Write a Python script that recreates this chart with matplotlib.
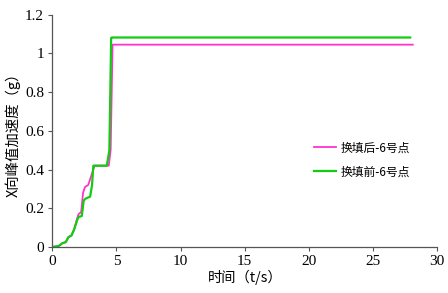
import matplotlib
matplotlib.use('Agg')
import matplotlib.pyplot as plt

# 换填后-6号点 (after)
t_after = [0, 0.5, 0.8, 1.05, 1.25, 1.5, 1.7, 1.95, 2.05, 2.25, 2.4, 2.55, 2.8, 3.0, 3.2, 3.3,
           4.4, 4.55, 4.7, 28.1]
a_after = [0, 0.005, 0.02, 0.025, 0.05, 0.06, 0.09, 0.15, 0.17, 0.18, 0.28, 0.31, 0.32, 0.36, 0.40, 0.42,
           0.42, 0.5, 1.045, 1.045]

# 换填前-6号点 (before)
t_before = [0, 0.5, 0.8, 1.05, 1.25, 1.5, 1.7, 1.95, 2.05, 2.3, 2.45, 2.6, 2.95, 3.1, 3.2,
            4.25, 4.45, 4.59, 4.65, 27.9]
a_before = [0, 0.005, 0.02, 0.025, 0.05, 0.06, 0.09, 0.14, 0.155, 0.16, 0.24, 0.25, 0.26, 0.32, 0.42,
            0.42, 0.5, 1.08, 1.082, 1.082]

xticks = [0, 5, 10, 15, 20, 25, 30]
yticks = [0, 0.2, 0.4, 0.6, 0.8, 1.0, 1.2]
yticklabels = ['0', '0.2', '0.4', '0.6', '0.8', '1', '1.2']

cjk = ['Noto Sans CJK SC', 'DejaVu Sans']

fig = plt.figure(figsize=(4.48, 2.93), dpi=100)
ax = fig.add_axes([0.1167, 0.157, 0.859, 0.793])

ax.plot(t_after, a_after, color='#ff33cc', lw=1.3, label='换填后-6号点')
ax.plot(t_before, a_before, color='#11cc11', lw=1.6, label='换填前-6号点')

ax.set_xlim(0, 30)
ax.set_ylim(0, 1.2)
ax.set_xticks(xticks)
ax.set_yticks(yticks)
ax.set_yticklabels(yticklabels)
for lab in ax.get_xticklabels() + ax.get_yticklabels():
    lab.set_family('Liberation Serif')
    lab.set_fontsize(11)
ax.tick_params(direction='out', length=3, width=0.8, color='#555555', pad=3)
ax.spines['top'].set_visible(False)
ax.spines['right'].set_visible(False)
for s in ['left', 'bottom']:
    ax.spines[s].set_color('#555555')
    ax.spines[s].set_linewidth(0.9)

ax.set_xlabel('时间（t/s）', family=cjk, fontsize=10.3, labelpad=1)
ax.set_ylabel('X向峰值加速度（g）', family=cjk, fontsize=10.4, labelpad=3)

leg = ax.legend(loc='upper left', bbox_to_anchor=(0.652, 0.50), frameon=False,
                prop={'family': cjk, 'size': 8.5}, handlelength=1.85, handletextpad=0.45,
                labelspacing=0.92)

fig.savefig('out.png', dpi=100)
